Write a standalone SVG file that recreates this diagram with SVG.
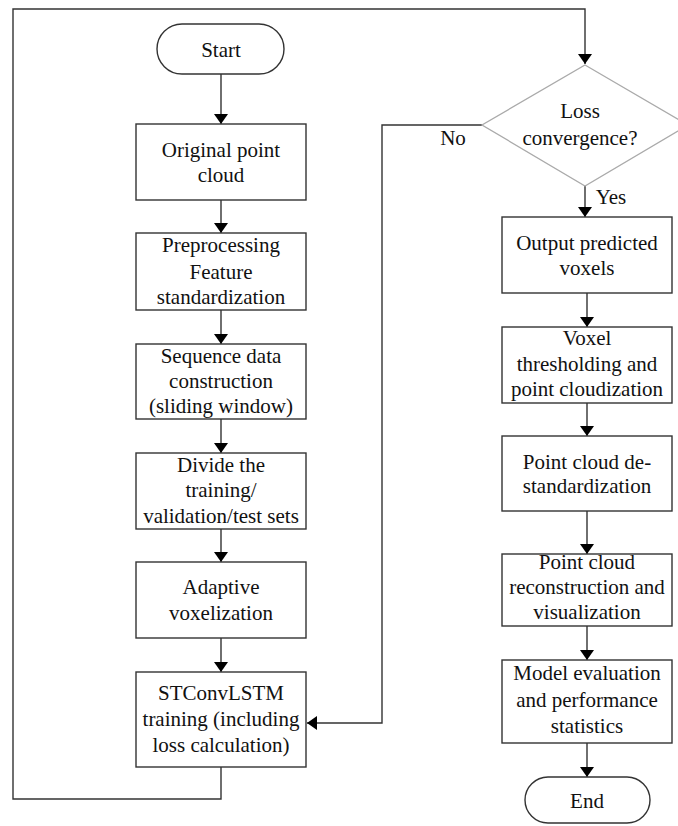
<svg xmlns="http://www.w3.org/2000/svg" width="678" height="826" viewBox="0 0 678 826" font-family="Liberation Serif, Times New Roman, DejaVu Serif, serif" font-size="21">
<style>
.box{fill:#fff;stroke:#333;stroke-width:1.4}
.dia{fill:#fff;stroke:#aaa;stroke-width:1.3}
.ln{fill:none;stroke:#333;stroke-width:1.4}
.t{fill:#111;text-anchor:middle}
</style>
<defs>
<marker id="ah" viewBox="0 0 10 14" refX="10" refY="7" markerWidth="10" markerHeight="14" markerUnits="userSpaceOnUse" orient="auto">
<path d="M0,0 L10,7 L0,14 Z" fill="#000"/>
</marker>
</defs>
<rect width="678" height="826" fill="#fff"/>
<g id="connectors">
<line class="ln" x1="221" y1="74" x2="221" y2="124" marker-end="url(#ah)"/>
<line class="ln" x1="221" y1="200" x2="221" y2="233" marker-end="url(#ah)"/>
<line class="ln" x1="221" y1="310" x2="221" y2="344" marker-end="url(#ah)"/>
<line class="ln" x1="221" y1="419" x2="221" y2="453" marker-end="url(#ah)"/>
<line class="ln" x1="221" y1="529" x2="221" y2="562" marker-end="url(#ah)"/>
<line class="ln" x1="221" y1="638" x2="221" y2="672" marker-end="url(#ah)"/>
<polyline class="ln" points="221,767 221,799 13,799 13,9 585,9 585,64" marker-end="url(#ah)"/>
<polyline class="ln" points="482,125 382,125 382,723 307,723" marker-end="url(#ah)"/>
<line class="ln" x1="585" y1="186" x2="585" y2="217" marker-end="url(#ah)"/>
<line class="ln" x1="587" y1="293" x2="587" y2="327" marker-end="url(#ah)"/>
<line class="ln" x1="587" y1="403" x2="587" y2="436" marker-end="url(#ah)"/>
<line class="ln" x1="587" y1="511" x2="587" y2="554" marker-end="url(#ah)"/>
<line class="ln" x1="587" y1="626" x2="587" y2="660" marker-end="url(#ah)"/>
<line class="ln" x1="587" y1="743" x2="587" y2="777" marker-end="url(#ah)"/>
<text class="t" x="453" y="145">No</text>
<text class="t" x="611" y="204">Yes</text>
</g>
<g id="start">
<rect class="box" x="157" y="24" width="127" height="50" rx="25"/>
<text class="t" x="221" y="57">Start</text>
</g>
<g id="n1">
<rect class="box" x="136" y="124" width="170" height="76"/>
<text class="t" x="221" y="157">Original point</text>
<text class="t" x="221" y="182">cloud</text>
</g>
<g id="n2">
<rect class="box" x="136" y="233" width="170" height="77"/>
<text class="t" x="221" y="252">Preprocessing</text>
<text class="t" x="221" y="279">Feature</text>
<text class="t" x="221" y="304">standardization</text>
</g>
<g id="n3">
<rect class="box" x="136" y="344" width="170" height="75"/>
<text class="t" x="221" y="363">Sequence data</text>
<text class="t" x="221" y="388">construction</text>
<text class="t" x="221" y="413">(sliding window)</text>
</g>
<g id="n4">
<rect class="box" x="136" y="453" width="170" height="76"/>
<text class="t" x="221" y="472">Divide the</text>
<text class="t" x="221" y="497">training/</text>
<text class="t" x="221" y="523">validation/test sets</text>
</g>
<g id="n5">
<rect class="box" x="136" y="562" width="170" height="76"/>
<text class="t" x="221" y="594">Adaptive</text>
<text class="t" x="221" y="620">voxelization</text>
</g>
<g id="n6">
<rect class="box" x="136" y="672" width="170" height="95"/>
<text class="t" x="221" y="700">STConvLSTM</text>
<text class="t" x="221" y="726">training (including</text>
<text class="t" x="221" y="752">loss calculation)</text>
</g>
<g id="decision">
<polygon class="dia" points="585,65 688,125 585,186 482,125"/>
<text class="t" x="580" y="118">Loss</text>
<text class="t" x="580" y="145">convergence?</text>
</g>
<g id="r1">
<rect class="box" x="502" y="217" width="170" height="76"/>
<text class="t" x="587" y="250">Output predicted</text>
<text class="t" x="587" y="275">voxels</text>
</g>
<g id="r2">
<rect class="box" x="502" y="327" width="170" height="76"/>
<text class="t" x="587" y="345">Voxel</text>
<text class="t" x="587" y="371">thresholding and</text>
<text class="t" x="587" y="396">point cloudization</text>
</g>
<g id="r3">
<rect class="box" x="502" y="436" width="170" height="75"/>
<text class="t" x="587" y="469">Point cloud de-</text>
<text class="t" x="587" y="493">standardization</text>
</g>
<g id="r4">
<rect class="box" x="502" y="554" width="170" height="72"/>
<text class="t" x="587" y="569">Point cloud</text>
<text class="t" x="587" y="594">reconstruction and</text>
<text class="t" x="587" y="619">visualization</text>
</g>
<g id="r5">
<rect class="box" x="502" y="660" width="170" height="83"/>
<text class="t" x="587" y="680">Model evaluation</text>
<text class="t" x="587" y="707">and performance</text>
<text class="t" x="587" y="733">statistics</text>
</g>
<g id="end">
<rect class="box" x="525" y="777" width="125" height="46" rx="23"/>
<text class="t" x="587" y="808">End</text>
</g>
</svg>
